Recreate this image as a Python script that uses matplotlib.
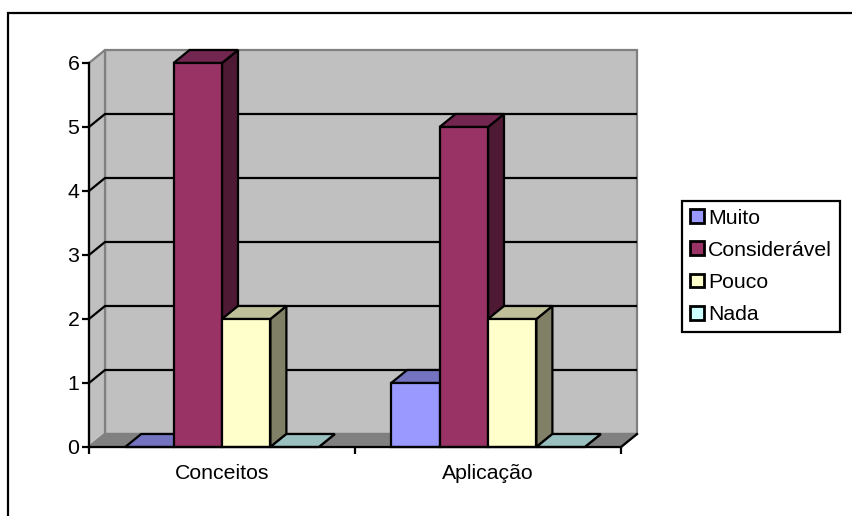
import matplotlib
matplotlib.use("Agg")
import matplotlib.pyplot as plt
from matplotlib.patches import Polygon, Patch
from matplotlib.lines import Line2D

plt.rcParams['font.family'] = ['Liberation Sans', 'DejaVu Sans']

categories = ['Conceitos', 'Aplicação']
series_names = ['Muito', 'Considerável', 'Pouco', 'Nada']
muito = [0, 1]
consideravel = [6, 5]
pouco = [2, 2]
nada = [0, 0]
series_values = [muito, consideravel, pouco, nada]
y_ticks = [0, 1, 2, 3, 4, 5, 6]

front = ['#9999FF', '#993366', '#FFFFCC', '#CCFFFF']
top = ['#7373BF', '#732650', '#BFBF99', '#99BFBF']
side = ['#4D4D80', '#4D1933', '#808066', '#668080']

W, H = 852, 516
fig = plt.figure(figsize=(W / 100, H / 100), dpi=100)
fig.patch.set_facecolor('white')

# axes: front plane of the 3D box, in pixels
X0, X1, Y0, Y1 = 89, 621, 447, 63
ax = fig.add_axes([X0 / W, 1 - Y0 / H, (X1 - X0) / W, (Y0 - Y1) / H])
ax.set_xlim(0, len(categories))
ax.set_ylim(0, 6)
ax.patch.set_visible(False)
for s in ax.spines.values():
    s.set_visible(False)

DX = 16 / ((X1 - X0) / len(categories))   # depth offset in data units
DY = 13 / ((Y0 - Y1) / 6)
BW = 48.4 / ((X1 - X0) / len(categories))
LW = 1.6
ymax = y_ticks[-1]
xmax = len(categories)

def poly(pts, fc, ec='k', z=1, lw=LW):
    ax.add_patch(Polygon(pts, closed=True, facecolor=fc, edgecolor=ec, linewidth=lw,
                         zorder=z, clip_on=False, joinstyle='miter'))

# walls and floor
poly([(DX, DY), (xmax + DX, DY), (xmax + DX, ymax + DY), (DX, ymax + DY)], '#C0C0C0', '#808080', 1)
poly([(0, 0), (DX, DY), (DX, ymax + DY), (0, ymax)], '#C0C0C0', '#808080', 1)
poly([(0, 0), (xmax, 0), (xmax + DX, DY), (DX, DY)], '#808080', '#808080', 1)

# gridlines (top edge of the box stays grey)
for t in y_ticks[1:-1]:
    ax.plot([0, DX, xmax + DX - 0.004], [t, t + DY, t + DY], color='k', lw=LW, zorder=2,
            clip_on=False, solid_joinstyle='miter')

# bars (drawn back to front, left to right)
n = len(series_names)
for c in range(len(categories)):
    start = c + 0.5 - n * BW / 2
    for i, vals in enumerate(series_values):
        v = vals[c]
        x = start + i * BW
        z = 3 + c * 10 + i
        poly([(x + BW, 0), (x + BW + DX, DY), (x + BW + DX, v + DY), (x + BW, v)], side[i], z=z)
        poly([(x, v), (x + BW, v), (x + BW + DX, v + DY), (x + DX, v + DY)], top[i], z=z)
        if v > 0:
            ax.bar(x, v, width=BW, align='edge', color=front[i], edgecolor='k',
                   linewidth=LW, zorder=z, clip_on=False)

# axes lines
ax.plot([0, 0], [0, ymax], color='k', lw=LW, zorder=60, clip_on=False)
ax.plot([0, xmax], [0, 0], color='k', lw=LW, zorder=60, clip_on=False)
ax.plot([xmax, xmax + DX], [0, DY], color='k', lw=LW, zorder=60, clip_on=False)

ax.set_yticks(y_ticks)
ax.set_xticks(range(xmax + 1))
ax.set_xticklabels([''] * (xmax + 1))
ax.tick_params(axis='both', length=5, width=LW, color='k', labelsize=15.3, pad=3)
ax.tick_params(axis='y', pad=2)
for c, name in enumerate(categories):
    ax.annotate(name, (c + 0.5, 0), xytext=(0, -17), textcoords='offset pixels',
                ha='center', va='top', fontsize=15.3, annotation_clip=False)

# legend
handles = [Patch(facecolor=f, edgecolor='k', linewidth=LW + 0.4) for f in front]
leg = fig.legend(handles, series_names, loc='upper left',
                 bbox_to_anchor=(682 / W, 1 - 201 / H), fontsize=15.3, frameon=True, fancybox=False,
                 edgecolor='k', framealpha=1, handlelength=0.66, handleheight=0.62,
                 handletextpad=0.22, labelspacing=0.62, borderpad=0.36, borderaxespad=0)
leg.get_frame().set_linewidth(LW)

# chart-area border, top and left only are visible in the picture
fig.add_artist(Line2D([8 / W, 8 / W, 1], [0, 1 - 13 / H, 1 - 13 / H], color='k', lw=LW,
                      solid_joinstyle='miter'))

fig.savefig('out.png', dpi=100)
